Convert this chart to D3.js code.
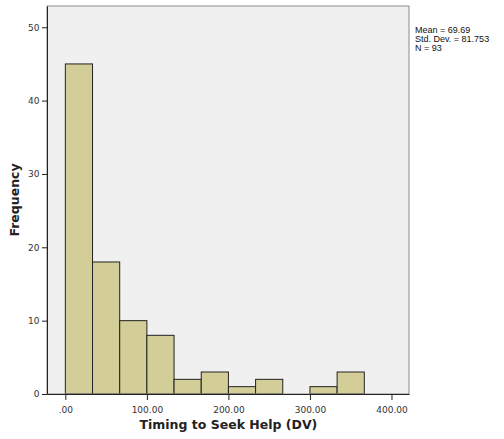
<!DOCTYPE html>
<html>
<head>
<meta charset="utf-8">
<script src="https://cdn.jsdelivr.net/npm/d3@7"></script>
<style>
  body { margin: 0; background: #fff; }
  svg text { font-family: "DejaVu Sans", sans-serif; }
</style>
</head>
<body>
<div id="chart"></div>
<script>
// histogram bins (lower edge, upper edge) and counts
const binEdges = [0, 33.33, 66.67, 100, 133.33, 166.67, 200, 233.33, 266.67, 300, 333.33, 366.67];
const counts = [45, 18, 10, 8, 2, 3, 1, 2, 0, 1, 3];
const xTicks = [0, 100, 200, 300, 400];
const yTicks = [0, 10, 20, 30, 40, 50];
const stats = ['Mean = 69.69', 'Std. Dev. = 81.753', 'N = 93'];

const width = 504, height = 439;
const margin = {top: 6, right: 95, bottom: 45, left: 47};
const w = width - margin.left - margin.right;
const h = height - margin.top - margin.bottom;

const svg = d3.select('#chart')
    .append('svg')
    .attr('width', width)
    .attr('height', height);

const g = svg.append('g')
    .attr('transform', `translate(${margin.left},${margin.top})`);

const x = d3.scaleLinear().domain([-22.5, 421.5]).range([0, w]);
const y = d3.scaleLinear().domain([0, 52.9]).range([h, 0]);

// plot background
g.append('rect')
    .attr('width', w)
    .attr('height', h)
    .attr('fill', '#f0f0f0');

const bins = counts.map((c, i) => ({x0: binEdges[i], x1: binEdges[i + 1], n: c}));

g.selectAll('.bar')
    .data(bins.filter(d => d.n > 0))
    .enter().append('rect')
    .attr('class', 'bar')
    .attr('x', d => x(d.x0))
    .attr('width', d => x(d.x1) - x(d.x0))
    .attr('y', d => y(d.n))
    .attr('height', d => h - y(d.n))
    .attr('fill', '#d3ce97')
    .attr('stroke', '#222')
    .attr('stroke-width', 1);

// frame
g.append('rect')
    .attr('width', w)
    .attr('height', h)
    .attr('fill', 'none')
    .attr('stroke', '#8a8a8a')
    .attr('stroke-width', 1);

const xAxis = g.append('g')
    .attr('transform', `translate(0,${h})`)
    .call(d3.axisBottom(x).tickValues(xTicks).tickSize(6).tickSizeOuter(0)
        .tickFormat(d => d === 0 ? '.00' : d3.format('.2f')(d)));

const yAxis = g.append('g')
    .call(d3.axisLeft(y).tickValues(yTicks).tickSize(5).tickSizeOuter(0));

[xAxis, yAxis].forEach(a => {
    a.select('.domain').attr('stroke', '#222');
    a.selectAll('.tick line').attr('stroke', '#222');
    a.selectAll('.tick text')
        .attr('fill', '#333')
        .style('font-size', '9px')
        .style('font-family', '"DejaVu Sans", sans-serif');
});
xAxis.selectAll('.tick text').attr('dy', '1.1em');
yAxis.selectAll('.tick text').attr('dx', '0.05em');

// axis titles
svg.append('text')
    .attr('x', margin.left + x(200))
    .attr('y', 429)
    .attr('text-anchor', 'middle')
    .style('font-size', '12.5px')
    .style('font-weight', 'bold')
    .attr('fill', '#222')
    .text('Timing to Seek Help (DV)');

svg.append('text')
    .attr('transform', `translate(19,${margin.top + h / 2}) rotate(-90)`)
    .attr('text-anchor', 'middle')
    .style('font-size', '12.5px')
    .style('font-weight', 'bold')
    .attr('fill', '#222')
    .text('Frequency');

// stats box text
svg.selectAll('.stat')
    .data(stats)
    .enter().append('text')
    .attr('class', 'stat')
    .attr('x', 415)
    .attr('y', (d, i) => 33 + i * 9)
    .style('font-size', '9px')
    .style('font-family', '"Liberation Sans", sans-serif')
    .attr('fill', '#111')
    .text(d => d);
</script>
</body>
</html>
